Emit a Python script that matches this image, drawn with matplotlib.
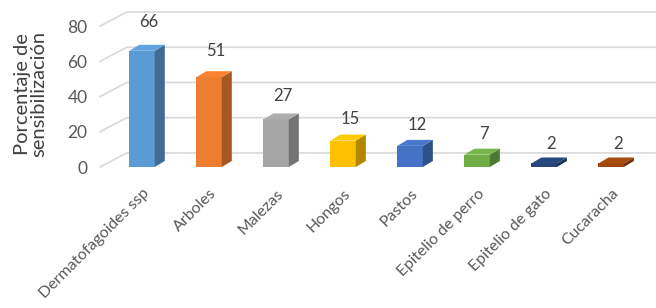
import numpy as np
import matplotlib.pyplot as plt
from matplotlib.patches import Polygon
from matplotlib.colors import to_rgb

plt.rcParams['font.family'] = ['Lato', 'DejaVu Sans']

categories = ['Dermatofagoides ssp', 'Arboles', 'Malezas', 'Hongos', 'Pastos',
              'Epitelio de perro', 'Epitelio de gato', 'Cucaracha']
values = [66, 51, 27, 15, 12, 7, 2, 2]
colors = ['#5B9BD5', '#ED7D31', '#A5A5A5', '#FFC000', '#4472C4',
          '#70AD47', '#264478', '#9E480E']
yticks = [0, 20, 40, 60, 80]

TXT = '#595959'
DPI = 100

fig = plt.figure(figsize=(656/DPI, 308/DPI), dpi=DPI)
ax = fig.add_axes([100/656, 141/308, 556/656, 162/308])
ax.set_xlim(-0.627, 7.67)
ax.set_ylim(0, 92)
for s in ax.spines.values():
    s.set_visible(False)

# perspective gridlines (wall offset)
gdx, gdy = 0.4, 8
x0 = ax.get_xlim()[0]
for v in yticks:
    ax.plot([x0, x0 + gdx, 7.67], [v, v + gdy, v + gdy], color='#D9D9D9',
            lw=1.2, clip_on=False, zorder=0)

# 3d-ish columns
hw = 0.19
bdx, bdy = 0.15, 3.4
for i, (v, c) in enumerate(zip(values, colors)):
    rgb = np.array(to_rgb(c))
    ax.add_patch(Polygon([(i - hw, 0), (i + hw, 0), (i + hw, v), (i - hw, v)],
                         closed=True, fc=rgb, ec='none', zorder=3))
    ax.add_patch(Polygon([(i + hw, 0), (i + hw + bdx, bdy),
                          (i + hw + bdx, v + bdy), (i + hw, v)],
                         closed=True, fc=rgb * 0.7, ec='none', zorder=3))
    ax.add_patch(Polygon([(i - hw, v), (i + hw, v), (i + hw + bdx, v + bdy),
                          (i - hw + bdx, v + bdy)],
                         closed=True, fc=np.clip(rgb * 1.05, 0, 1), ec='none', zorder=3))
    ax.text(i + 0.1, v + 11 + 0.08 * v, str(v), ha='center', va='center',
            fontsize=12, color='#404040')

ax.set_yticks(yticks)
ax.set_yticklabels([str(t) for t in yticks], fontsize=12.5, color=TXT)
ax.set_xticks(range(len(categories)))
ax.set_xticklabels(categories, rotation=45, ha='right', rotation_mode='anchor',
                   fontsize=11.5, color=TXT)
ax.tick_params(axis='y', length=0, pad=9)
ax.tick_params(axis='x', length=0, pad=14)
ax.set_ylabel('Porcentaje de\nsensibilización', fontsize=14.5, color='#404040',
              linespacing=1.0)
ax.yaxis.set_label_coords(-0.094, 0.45)

plt.savefig('out.png', dpi=DPI)
